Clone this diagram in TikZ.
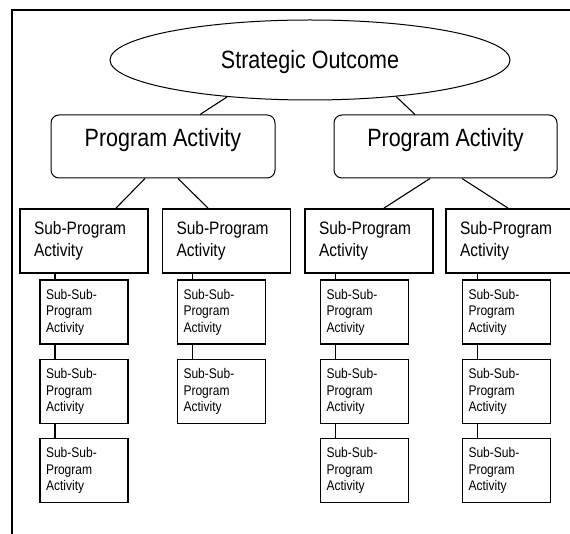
\documentclass[tikz,border=0pt]{standalone}
\usepackage{fontspec}
\newfontfamily\nf{Liberation Sans}[FakeStretch=0.86]
\usetikzlibrary{shapes.geometric}
\begin{document}
\begin{tikzpicture}[x=1pt,y=-1pt,
  ell/.style={draw, ellipse, line width=1pt, minimum width=400pt, minimum height=80pt,
    inner sep=0pt, font=\nf\fontsize{25}{30}\selectfont, text height=18pt, text depth=0pt},
  pabox/.style={draw, rounded corners=8pt, line width=1pt, minimum width=224pt, minimum height=63pt,
    inner sep=0pt, font=\nf\fontsize{25}{30}\selectfont, text height=18pt, text depth=18pt},
  spbox/.style={draw, line width=1.8pt, minimum height=64pt, inner xsep=14pt, inner ysep=0pt,
    text width=100pt, align=left, font=\nf\fontsize{18}{22}\selectfont},
  ssbox/.style={draw, line width=1.8pt, minimum height=64pt, inner xsep=6pt, inner ysep=0pt,
    text width=76pt, align=left, font=\nf\fontsize{14}{16.5}\selectfont},
  link/.style={line width=1.1pt},
  vlink/.style={line width=1.4pt}]
\useasboundingbox (0,0) rectangle (570,534);
\clip (0,0) rectangle (570,534);
\fill[white] (0,0) rectangle (570,534);
% frame
\draw[line width=2pt] (12,534) -- (12,10) -- (570,10);
% top
\node[ell] (so) at (310,60) {Strategic Outcome};
\node[pabox] (pa1) at (163,146.5) {Program Activity};
\node[pabox, minimum width=223pt] (pa2) at (445.5,146.5) {Program Activity};
% sub-program
\node[spbox] (sp1) at (84,241) {Sub-Program\\Activity};
\node[spbox] (sp2) at (226.5,241) {Sub-Program\\Activity};
\node[spbox] (sp3) at (369,241) {Sub-Program\\Activity};
\node[spbox] (sp4) at (510,241) {Sub-Program\\Activity};
% sub-sub
\node[ssbox] (s11) at (84,312) {Sub-Sub-\\Program\\Activity};
\node[ssbox] (s12) at (84,391.5) {Sub-Sub-\\Program\\Activity};
\node[ssbox] (s13) at (84,470.5) {Sub-Sub-\\Program\\Activity};
\node[ssbox] (s21) at (221.5,312) {Sub-Sub-\\Program\\Activity};
\node[ssbox] (s22) at (221.5,391.5) {Sub-Sub-\\Program\\Activity};
\node[ssbox] (s31) at (364.5,312) {Sub-Sub-\\Program\\Activity};
\node[ssbox] (s32) at (364.5,391.5) {Sub-Sub-\\Program\\Activity};
\node[ssbox] (s33) at (364.5,470.5) {Sub-Sub-\\Program\\Activity};
\node[ssbox] (s41) at (506.5,312) {Sub-Sub-\\Program\\Activity};
\node[ssbox] (s42) at (506.5,391.5) {Sub-Sub-\\Program\\Activity};
\node[ssbox] (s43) at (506.5,470.5) {Sub-Sub-\\Program\\Activity};
% connectors top
\draw[link] (so.204) -- ([xshift=37pt]pa1.north);
\draw[link] (so.337) -- ([xshift=-30.5pt]pa2.north);
\draw[link] ([xshift=-18pt]pa1.south) -- ([xshift=32pt]sp1.north);
\draw[link] ([xshift=15pt]pa1.south) -- ([xshift=-18.5pt]sp2.north);
\draw[link] ([xshift=-15.5pt]pa2.south) -- ([xshift=15pt]sp3.north);
\draw[link] ([xshift=16.5pt]pa2.south) -- ([xshift=-2pt]sp4.north);
% vertical connectors
\foreach \a/\b/\c in {s11/sp1/s11, s12/s11/s12, s13/s12/s13,
                      s21/sp2/s21, s22/s21/s22,
                      s31/sp3/s31, s32/s31/s32, s33/s32/s33,
                      s41/sp4/s41, s42/s41/s42, s43/s42/s43}{
  \path ([xshift=16pt]\a.north west) coordinate (k\c);
  \draw[vlink] (k\c) -- (k\c |- \b.south);
}
\end{tikzpicture}
\end{document}
